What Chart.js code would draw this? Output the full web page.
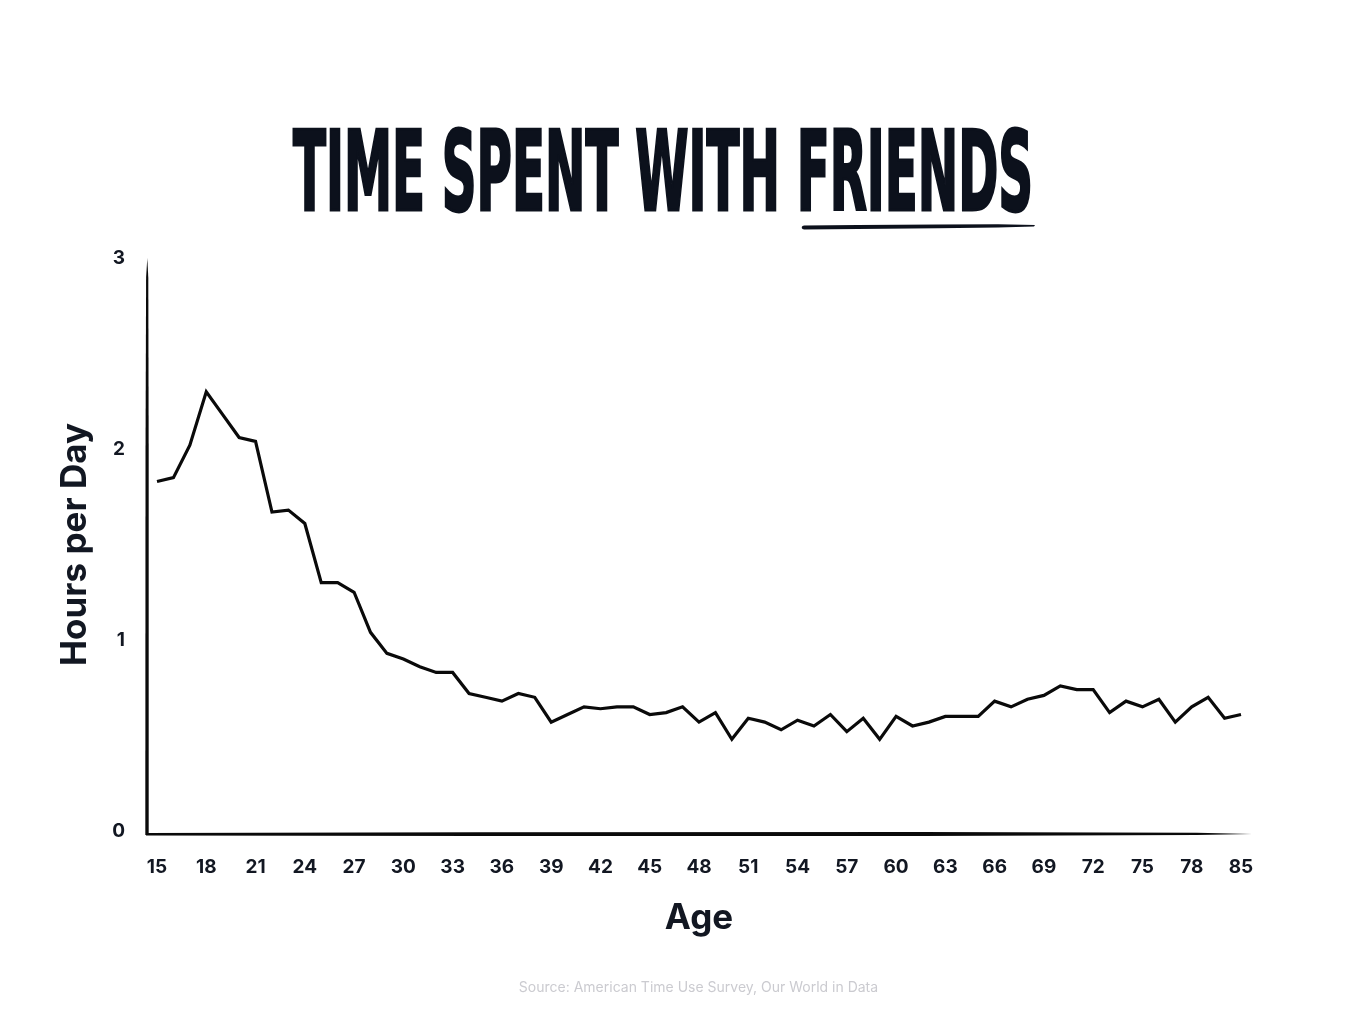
<!DOCTYPE html>
<html>
<head>
<meta charset="utf-8">
<script src="https://cdn.jsdelivr.net/npm/chart.js@4.4.1/dist/chart.umd.min.js"></script>
<style>
  html, body { margin: 0; padding: 0; background: #ffffff; }
  #wrap { position: relative; width: 1357px; height: 1023px; overflow: hidden; }
  #chartBox { position: absolute; left: 0; top: 0; width: 1357px; height: 1023px; }
  #title {
    position: absolute; left: 293px; top: 117px;
    font-family: "DejaVu Sans Condensed", "DejaVu Sans", sans-serif;
    font-weight: 700; font-size: 110px; line-height: 110px;
    color: #0c111c; white-space: nowrap;
    -webkit-text-stroke: 3px #0c111c;
    transform-origin: 0 0;
  }
  #underline { position: absolute; left: 798px; top: 218px; }
  #source {
    position: absolute; left: 0; width: 1397px; top: 978px; text-align: center;
    font-family: Inter, "Noto Sans", sans-serif; font-size: 14px; color: #cbcbd0;
  }
</style>
</head>
<body>
<div id="wrap">
  <div id="chartBox"><canvas id="c"></canvas></div>
  <div id="title">TIME SPENT WITH FRIENDS</div>
  <svg id="underline" width="244" height="16" viewBox="0 0 244 16">
    <path d="M6,7.5 C3,8 3,11 6,11.5 L60,11 L140,10.2 L200,9.5 L236,8.6 L237,7 L200,6.3 L140,6.4 L60,7 Z" fill="#0c111c"/>
  </svg>
  <div id="source">Source: American Time Use Survey, Our World in Data</div>
</div>
<script>
// ---- data ----
const ages = ['15','16','17','18','19','20','21','22','23','24','25','26','27','28','29',
  '30','31','32','33','34','35','36','37','38','39','40','41','42','43','44',
  '45','46','47','48','49','50','51','52','53','54','55','56','57','58','59',
  '60','61','62','63','64','65','66','67','68','69','70','71','72','73','74',
  '75','76','77','78','79','80','85'];
const hoursPerDay = [1.83,1.85,2.02,2.30,2.18,2.06,2.04,1.67,1.68,1.61,1.30,1.30,1.25,1.04,0.93,
  0.90,0.86,0.83,0.83,0.72,0.70,0.68,0.72,0.70,0.57,0.61,0.65,0.64,0.65,0.65,
  0.61,0.62,0.65,0.57,0.62,0.48,0.59,0.57,0.53,0.58,0.55,0.61,0.52,0.59,0.48,
  0.60,0.55,0.57,0.60,0.60,0.60,0.68,0.65,0.69,0.71,0.76,0.74,0.74,0.62,0.68,
  0.65,0.69,0.57,0.65,0.70,0.59,0.61];
const yTicks = [0, 1, 2, 3];
const titleText = 'TIME SPENT WITH FRIENDS';
const yTitle = 'Hours per Day';
const xTitle = 'Age';

// condense title to its width
(function () {
  const t = document.getElementById('title');
  t.textContent = titleText;
  const w = t.offsetWidth;
  t.style.transform = 'scaleX(' + (740 / w) + ')';
})();

const ink = '#121722';

// brush-like axis lines
const brushAxes = {
  id: 'brushAxes',
  beforeDatasetsDraw(chart) {
    const {ctx, chartArea: a} = chart;
    ctx.save();
    ctx.fillStyle = '#0a0a0a';
    // y axis
    const yx = a.left - 10;
    const yb = a.bottom + 4;
    ctx.beginPath();
    ctx.moveTo(yx + 0.3, a.top);
    ctx.lineTo(yx + 1.3, a.top + 20);
    ctx.lineTo(yx + 1.7, a.top + 200);
    ctx.lineTo(yx + 1.7, yb);
    ctx.lineTo(yx - 1.7, yb);
    ctx.lineTo(yx - 1.5, a.top + 200);
    ctx.lineTo(yx - 0.9, a.top + 20);
    ctx.closePath();
    ctx.fill();
    // x axis
    const xy = a.bottom + 3;
    const xl = a.left - 11, xr = a.right + 11;
    const span = xr - xl;
    ctx.beginPath();
    ctx.moveTo(xl, xy - 1.0);
    ctx.lineTo(xl + span * 0.3, xy - 1.7);
    ctx.lineTo(xl + span * 0.7, xy - 1.9);
    ctx.lineTo(xl + span * 0.95, xy - 1.3);
    ctx.lineTo(xr, xy + 0.1);
    ctx.lineTo(xl + span * 0.95, xy + 1.1);
    ctx.lineTo(xl + span * 0.7, xy + 2.0);
    ctx.lineTo(xl + span * 0.3, xy + 1.9);
    ctx.lineTo(xl, xy + 1.4);
    ctx.closePath();
    ctx.fill();
    ctx.restore();
  }
};

new Chart(document.getElementById('c'), {
  type: 'line',
  data: {
    labels: ages,
    datasets: [{
      data: hoursPerDay,
      borderColor: '#0a0a0a',
      borderWidth: 3.2,
      pointRadius: 0,
      pointHoverRadius: 0,
      tension: 0,
      borderJoinStyle: 'miter',
      fill: false
    }]
  },
  options: {
    responsive: true,
    maintainAspectRatio: false,
    animation: false,
    events: [],
    layout: { padding: { left: 0, right: 116, top: 258, bottom: 0 } },
    plugins: { legend: { display: false }, tooltip: { enabled: false }, title: { display: false } },
    scales: {
      x: {
        type: 'category',
        offset: false,
        grid: { display: false, drawTicks: false },
        border: { display: false },
        afterFit(s) { s.height = 192; },
        ticks: {
          autoSkip: false, maxRotation: 0, minRotation: 0, padding: 25,
          color: ink,
          font: { family: 'Inter', weight: '700', size: 19 },
          callback(v, i) { return i % 3 === 0 ? ages[i] : ''; }
        },
        title: {
          display: true, text: xTitle, color: ink,
          font: { family: 'Inter', weight: '700', size: 35 },
          padding: { top: 0, bottom: 84 }
        }
      },
      y: {
        min: 0, max: 3,
        grid: { display: false, drawTicks: false },
        border: { display: false },
        afterFit(s) { s.width = 157; },
        afterBuildTicks(s) { s.ticks = yTicks.map(v => ({ value: v })); },
        ticks: {
          padding: 32, color: ink,
          font: { family: 'Inter', weight: '700', size: 19 }
        },
        title: {
          display: true, text: yTitle, color: ink,
          font: { family: 'Inter', weight: '700', size: 35 },
          padding: { top: 54, bottom: 0 }
        }
      }
    }
  },
  plugins: [brushAxes]
});
</script>
</body>
</html>
